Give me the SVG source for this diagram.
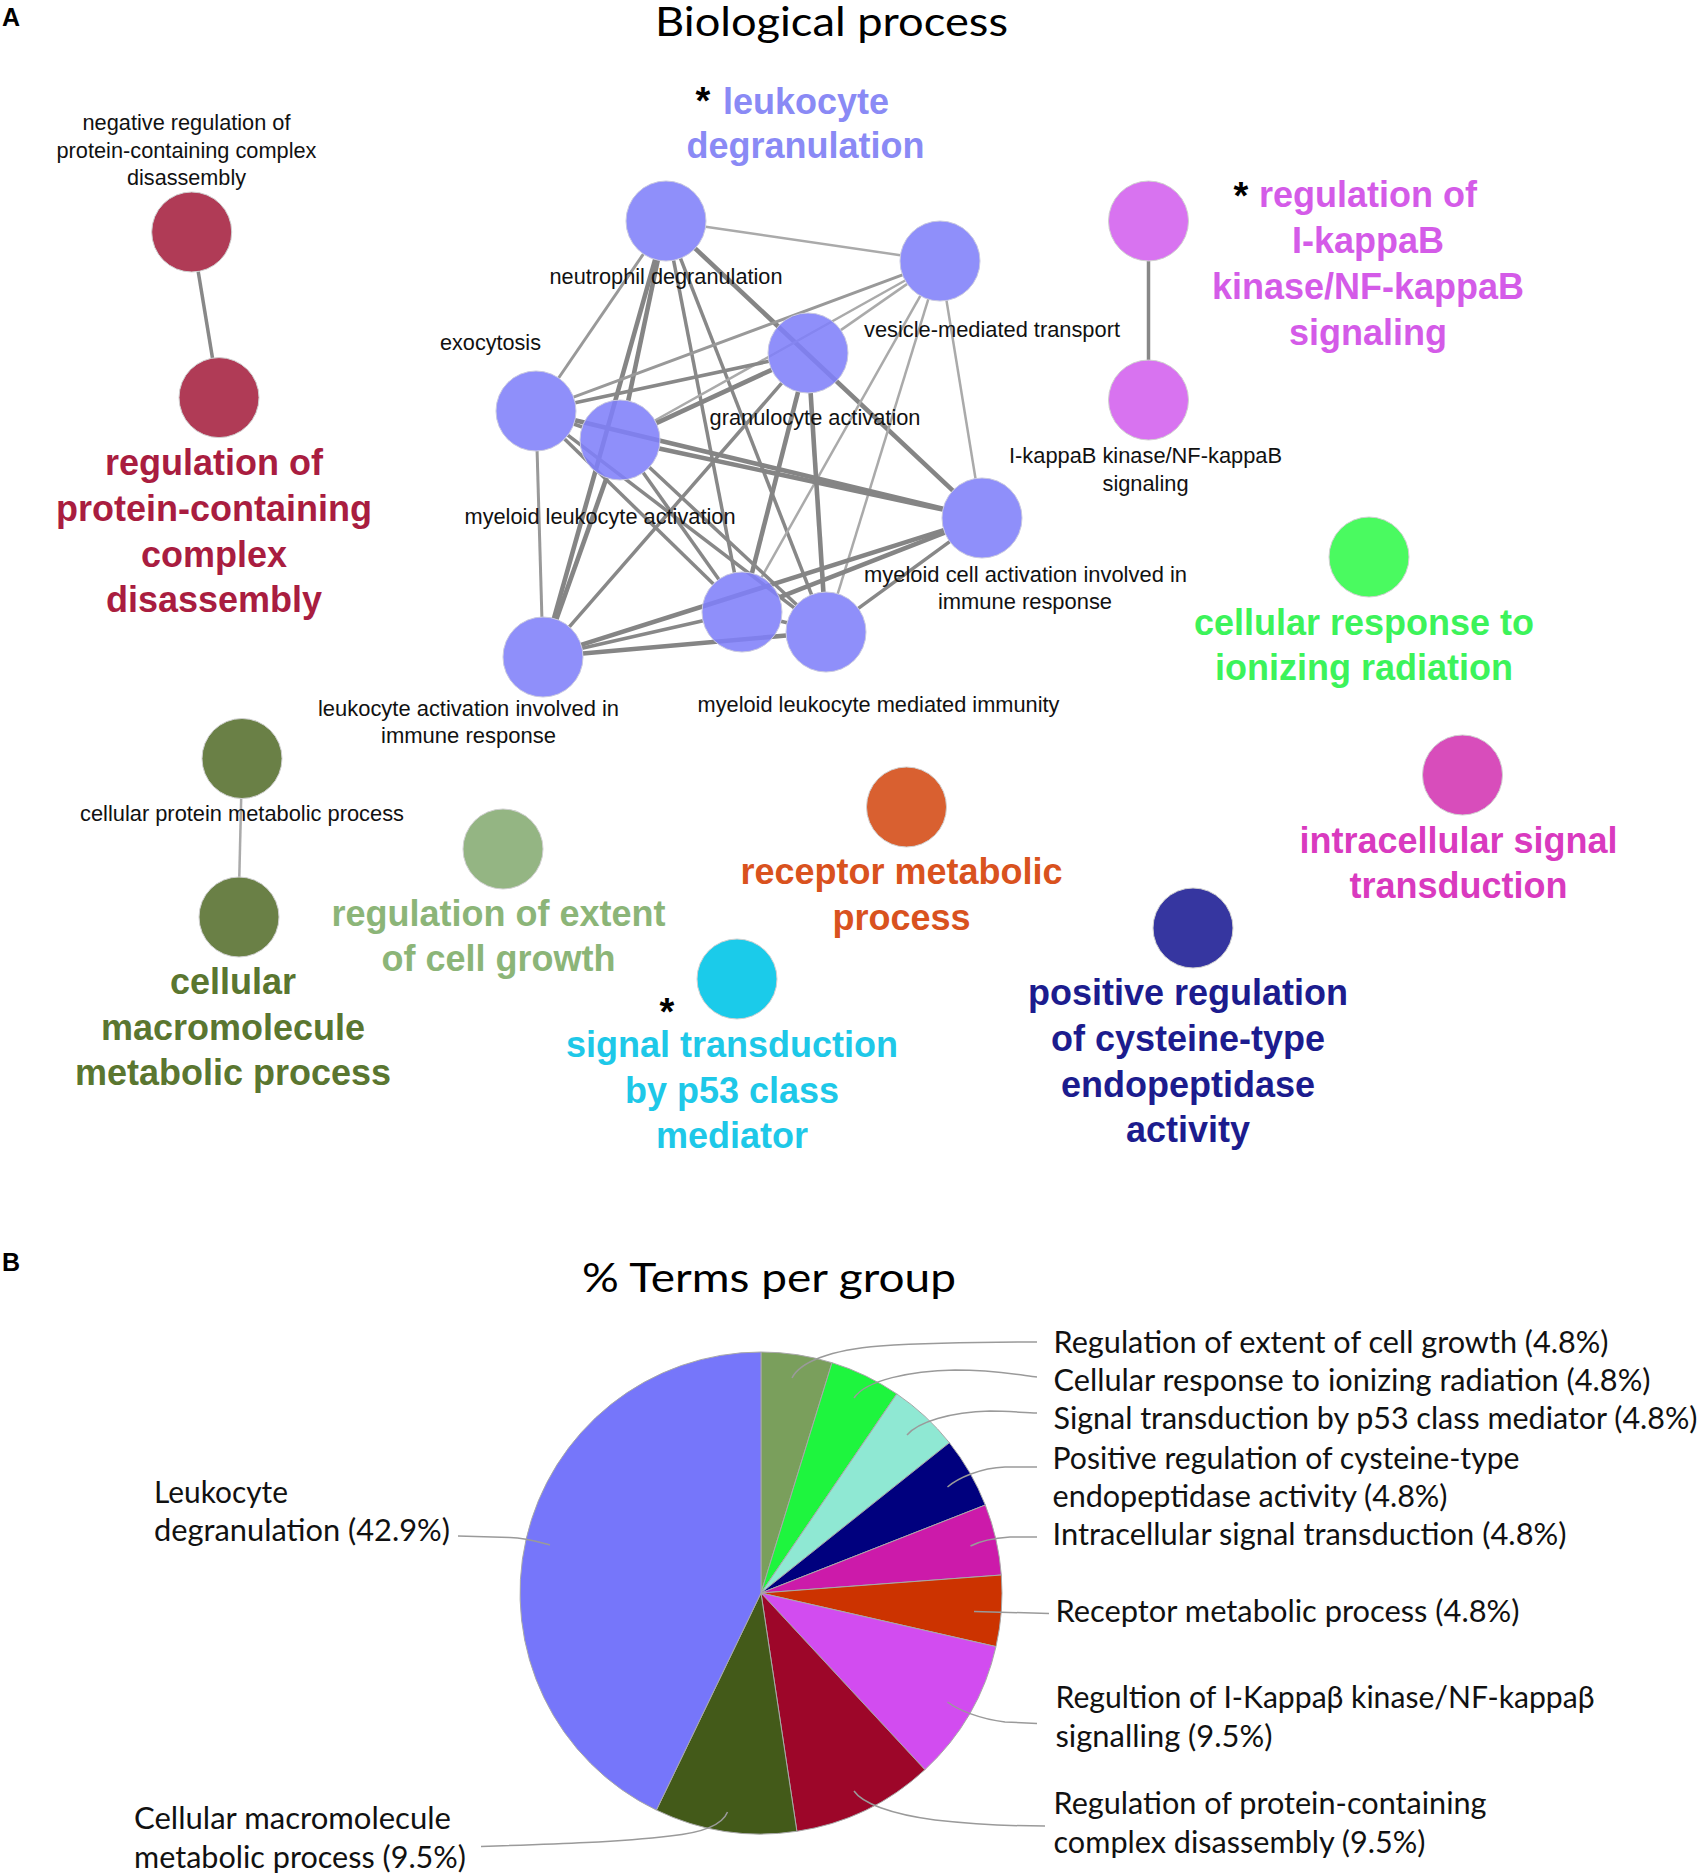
<svg xmlns="http://www.w3.org/2000/svg" width="1699" height="1875" viewBox="0 0 1699 1875">
<style>
.e1{stroke:#aaa;stroke-width:2.5;fill:none}
.e2{stroke:#888;stroke-width:3.5;fill:none}
.e3{stroke:#858585;stroke-width:4.6;fill:none}
.e0{stroke:#999;stroke-width:3;fill:none}
.bn{fill:#8080F9;fill-opacity:0.88;stroke:#c8c8e0;stroke-width:1}
.nd{stroke:#d0d0d0;stroke-width:1}
.sl{font-family:"Liberation Sans",Arial,sans-serif;font-size:21.5px;fill:#111;text-anchor:middle}
.bl{font-family:"Liberation Sans",Arial,sans-serif;font-size:36px;font-weight:bold;text-anchor:middle}
.ast{font-family:"Liberation Sans",Arial,sans-serif;font-size:38px;font-weight:bold;fill:#000;text-anchor:middle}
.ttl{font-family:Lato,"Liberation Sans",sans-serif;font-size:41px;fill:#000;text-anchor:middle}
.lg{font-family:Lato,"Liberation Sans",sans-serif;font-size:30px;fill:#111}
.pl{font-family:"Liberation Sans",Arial,sans-serif;font-size:25px;font-weight:bold;fill:#000}
.ld{stroke:#9a9a9a;stroke-width:1.5;fill:none}
.ps{stroke:#a8a8a8;stroke-width:1}
</style>
<rect width="1699" height="1875" fill="#fff"/>

<text class="pl" x="2" y="26">A</text>
<text class="ttl" x="831.5" y="36" textLength="353" lengthAdjust="spacingAndGlyphs">Biological process</text>

<g id="connectors">
  <line class="e2" x1="198.2" y1="271.5" x2="212.5" y2="358.1"/>
  <line class="e2" x1="1148.5" y1="261" x2="1148.5" y2="360"/>
  <line class="e1" stroke-width="2" x1="241.2" y1="798" x2="239.3" y2="877"/>
  <line class="e1" x1="705.6" y1="226.8" x2="900.4" y2="255.2"/>
  <line class="e0" x1="643.4" y1="254.0" x2="558.6" y2="378.0"/>
  <line class="e3" x1="657.8" y1="260.1" x2="628.2" y2="400.9"/>
  <line class="e3" x1="655.1" y1="259.5" x2="553.9" y2="618.5"/>
  <line class="e2" x1="673.6" y1="260.3" x2="734.4" y2="572.7"/>
  <line class="e2" x1="680.5" y1="258.3" x2="811.5" y2="594.7"/>
  <line class="e3" stroke-width="5" x1="695.1" y1="248.4" x2="952.9" y2="490.6"/>
  <line class="e0" stroke="#9c9c9c" x1="902.5" y1="274.9" x2="573.5" y2="397.1"/>
  <line class="e1" x1="905.1" y1="280.5" x2="654.9" y2="420.5"/>
  <line class="e1" x1="907.2" y1="283.9" x2="840.8" y2="330.1"/>
  <line class="e1" stroke-width="2" x1="920.3" y1="295.8" x2="761.7" y2="577.2"/>
  <line class="e1" stroke-width="2" x1="928.3" y1="299.2" x2="837.7" y2="593.8"/>
  <line class="e1" x1="946.5" y1="300.5" x2="975.5" y2="478.5"/>
  <line class="e2" x1="768.9" y1="361.3" x2="575.1" y2="402.7"/>
  <line class="e3" x1="771.7" y1="369.8" x2="656.3" y2="423.2"/>
  <line class="e2" x1="781.7" y1="383.2" x2="569.3" y2="626.8"/>
  <line class="e3" stroke-width="4" x1="798.1" y1="391.8" x2="751.9" y2="573.2"/>
  <line class="e3" stroke-width="4" x1="810.6" y1="392.9" x2="823.4" y2="592.1"/>
  <line class="e2" x1="573.8" y1="424.0" x2="582.2" y2="427.0"/>
  <line class="e3" x1="574.9" y1="420.3" x2="943.1" y2="508.7"/>
  <line class="e0" x1="537.1" y1="451.0" x2="541.9" y2="617.0"/>
  <line class="e2" x1="564.6" y1="438.9" x2="713.4" y2="584.1"/>
  <line class="e2" x1="567.8" y1="435.2" x2="794.2" y2="607.8"/>
  <line class="e3" x1="659.1" y1="448.4" x2="942.9" y2="509.6"/>
  <line class="e3" stroke-width="4" x1="606.6" y1="477.7" x2="556.4" y2="619.3"/>
  <line class="e2" x1="643.1" y1="472.6" x2="718.9" y2="579.4"/>
  <line class="e2" x1="649.3" y1="467.3" x2="796.7" y2="604.7"/>
  <line class="e3" x1="943.9" y1="530.1" x2="581.1" y2="644.9"/>
  <line class="e3" stroke-width="4" x1="944.8" y1="532.6" x2="779.2" y2="597.4"/>
  <line class="e2" x1="949.7" y1="541.6" x2="858.3" y2="608.4"/>
  <line class="e2" x1="582.0" y1="648.2" x2="703.0" y2="620.8"/>
  <line class="e3" stroke-width="4" x1="582.8" y1="653.5" x2="786.2" y2="635.5"/>
  <line class="e2" x1="780.9" y1="621.3" x2="787.1" y2="622.7"/>
</g>

<g id="node-neutrophil-degranulation">
  <circle class="bn" cx="666" cy="221" r="40"/>
  <text class="sl" x="666" y="284" textLength="233" lengthAdjust="spacingAndGlyphs">neutrophil degranulation</text>
</g>
<g id="node-vesicle-mediated-transport">
  <circle class="bn" cx="940" cy="261" r="40"/>
  <text class="sl" x="992" y="337" textLength="256" lengthAdjust="spacingAndGlyphs">vesicle-mediated transport</text>
</g>
<g id="node-granulocyte-activation">
  <circle class="bn" cx="808" cy="353" r="40"/>
  <text class="sl" x="815" y="425" textLength="211" lengthAdjust="spacingAndGlyphs">granulocyte activation</text>
</g>
<g id="node-exocytosis">
  <circle class="bn" cx="536" cy="411" r="40"/>
  <text class="sl" x="490.5" y="350" textLength="101" lengthAdjust="spacingAndGlyphs">exocytosis</text>
</g>
<g id="node-myeloid-leukocyte-activation">
  <circle class="bn" cx="620" cy="440" r="40"/>
  <text class="sl" x="600" y="524" textLength="271" lengthAdjust="spacingAndGlyphs">myeloid leukocyte activation</text>
</g>
<g id="node-myeloid-cell-activation">
  <circle class="bn" cx="982" cy="518" r="40"/>
  <text class="sl" x="1025.5" y="581.5" textLength="323" lengthAdjust="spacingAndGlyphs">myeloid cell activation involved in</text>
  <text class="sl" x="1025" y="608.5" textLength="174" lengthAdjust="spacingAndGlyphs">immune response</text>
</g>
<g id="node-leukocyte-degranulation">
  <circle class="bn" cx="742" cy="612" r="40"/>
</g>
<g id="node-myeloid-leukocyte-mediated-immunity">
  <circle class="bn" cx="826" cy="632" r="40"/>
  <text class="sl" x="878.5" y="711.5" textLength="362" lengthAdjust="spacingAndGlyphs">myeloid leukocyte mediated immunity</text>
</g>
<g id="node-leukocyte-activation">
  <circle class="bn" cx="543" cy="657" r="40"/>
  <text class="sl" x="468.5" y="716" textLength="301" lengthAdjust="spacingAndGlyphs">leukocyte activation involved in</text>
  <text class="sl" x="468.5" y="743" textLength="175" lengthAdjust="spacingAndGlyphs">immune response</text>
</g>
<g id="label-leukocyte-degranulation">
  <text class="ast" x="703" y="114">*</text>
  <text class="bl" x="806" y="114" fill="#8A8AF5">leukocyte</text>
  <text class="bl" x="805.5" y="158" fill="#8A8AF5">degranulation</text>
</g>

<g id="node-negative-regulation-protein-complex">
  <circle class="nd" cx="191.7" cy="232" r="40" fill="#B03B56"/>
  <text class="sl" x="186.5" y="130" textLength="208" lengthAdjust="spacingAndGlyphs">negative regulation of</text>
  <text class="sl" x="186.5" y="158" textLength="260" lengthAdjust="spacingAndGlyphs">protein-containing complex</text>
  <text class="sl" x="186.5" y="185" textLength="119" lengthAdjust="spacingAndGlyphs">disassembly</text>
</g>
<g id="node-regulation-protein-complex">
  <circle class="nd" cx="219" cy="397.6" r="40" fill="#B03B56"/>
  <text class="bl" fill="#A91D40" x="214" y="475">regulation of</text>
  <text class="bl" fill="#A91D40" x="214" y="521">protein-containing</text>
  <text class="bl" fill="#A91D40" x="214" y="567">complex</text>
  <text class="bl" fill="#A91D40" x="214" y="612">disassembly</text>
</g>

<g id="node-regulation-ikappab">
  <circle class="nd" cx="1148.5" cy="221" r="40" fill="#D873F0"/>
  <text class="ast" x="1241" y="209">*</text>
  <text class="bl" fill="#D45BE8" x="1368" y="207">regulation of</text>
  <text class="bl" fill="#D45BE8" x="1368" y="253">I-kappaB</text>
  <text class="bl" fill="#D45BE8" x="1368" y="299">kinase/NF-kappaB</text>
  <text class="bl" fill="#D45BE8" x="1368" y="345">signaling</text>
</g>
<g id="node-ikappab-signaling">
  <circle class="nd" cx="1148.5" cy="400" r="40" fill="#D873F0"/>
  <text class="sl" x="1145.5" y="463" textLength="273" lengthAdjust="spacingAndGlyphs">I-kappaB kinase/NF-kappaB</text>
  <text class="sl" x="1145.5" y="490.5" textLength="86" lengthAdjust="spacingAndGlyphs">signaling</text>
</g>

<g id="node-cellular-response-ionizing-radiation">
  <circle class="nd" cx="1369" cy="557" r="40" fill="#4AFA60"/>
  <text class="bl" fill="#3CF35A" x="1364" y="635">cellular response to</text>
  <text class="bl" fill="#3CF35A" x="1364" y="680">ionizing radiation</text>
</g>

<g id="node-cellular-protein-metabolic-process">
  <circle class="nd" cx="242" cy="758.5" r="40" fill="#6A8046"/>
  <text class="sl" x="242" y="821" textLength="324" lengthAdjust="spacingAndGlyphs">cellular protein metabolic process</text>
</g>
<g id="node-cellular-macromolecule-metabolic-process">
  <circle class="nd" cx="239" cy="917" r="40" fill="#6A8046"/>
  <text class="bl" fill="#5A7630" x="233" y="994">cellular</text>
  <text class="bl" fill="#5A7630" x="233" y="1040">macromolecule</text>
  <text class="bl" fill="#5A7630" x="233" y="1085">metabolic process</text>
</g>

<g id="node-regulation-extent-cell-growth">
  <circle class="nd" cx="503" cy="849" r="40" fill="#94B583"/>
  <text class="bl" fill="#8CB578" x="498.5" y="926">regulation of extent</text>
  <text class="bl" fill="#8CB578" x="498.5" y="971">of cell growth</text>
</g>

<g id="node-receptor-metabolic-process">
  <circle class="nd" cx="906.5" cy="807" r="40" fill="#D96030"/>
  <text class="bl" fill="#D9521E" x="901.5" y="884">receptor metabolic</text>
  <text class="bl" fill="#D9521E" x="901.5" y="930">process</text>
</g>

<g id="node-signal-transduction-p53">
  <circle class="nd" cx="737" cy="979" r="40" fill="#1BCBEA"/>
  <text class="ast" x="667" y="1025">*</text>
  <text class="bl" fill="#1EC8E8" x="732" y="1057">signal transduction</text>
  <text class="bl" fill="#1EC8E8" x="732" y="1103">by p53 class</text>
  <text class="bl" fill="#1EC8E8" x="732" y="1148">mediator</text>
</g>

<g id="node-positive-regulation-cysteine">
  <circle class="nd" cx="1193" cy="928" r="40" fill="#3636A0"/>
  <text class="bl" fill="#1C1C8E" x="1188" y="1005">positive regulation</text>
  <text class="bl" fill="#1C1C8E" x="1188" y="1051">of cysteine-type</text>
  <text class="bl" fill="#1C1C8E" x="1188" y="1097">endopeptidase</text>
  <text class="bl" fill="#1C1C8E" x="1188" y="1142">activity</text>
</g>

<g id="node-intracellular-signal-transduction">
  <circle class="nd" cx="1462.5" cy="775" r="40" fill="#D84DBB"/>
  <text class="bl" fill="#D93ABF" x="1458.5" y="853">intracellular signal</text>
  <text class="bl" fill="#D93ABF" x="1458.5" y="898">transduction</text>
</g>

<text class="pl" x="2" y="1271">B</text>
<text class="ttl" x="769" y="1292" textLength="374" lengthAdjust="spacingAndGlyphs">% Terms per group</text>

<g id="pie">
  <path class="ps" fill="#7A9F5C" d="M761,1593 L761,1352 A241,241 0 0,1 832.0,1362.7 Z"/>
  <path class="ps" fill="#1EF53E" d="M761,1593 L832.0,1362.7 A241,241 0 0,1 896.8,1393.9 Z"/>
  <path class="ps" fill="#8FE8D3" d="M761,1593 L896.8,1393.9 A241,241 0 0,1 949.4,1442.7 Z"/>
  <path class="ps" fill="#00007E" d="M761,1593 L949.4,1442.7 A241,241 0 0,1 985.3,1505.0 Z"/>
  <path class="ps" fill="#CC1AAA" d="M761,1593 L985.3,1505.0 A241,241 0 0,1 1001.3,1575.0 Z"/>
  <path class="ps" fill="#CC3300" d="M761,1593 L1001.3,1575.0 A241,241 0 0,1 996.0,1646.6 Z"/>
  <path class="ps" fill="#D24CF0" d="M761,1593 L996.0,1646.6 A241,241 0 0,1 924.9,1769.7 Z"/>
  <path class="ps" fill="#9D0629" d="M761,1593 L924.9,1769.7 A241,241 0 0,1 796.9,1831.3 Z"/>
  <path class="ps" fill="#435A19" d="M761,1593 L796.9,1831.3 A241,241 0 0,1 656.4,1810.1 Z"/>
  <path class="ps" fill="#7676FA" d="M761,1593 L656.4,1810.1 A241,241 0 0,1 761,1352 Z"/>
</g>

<g id="leaders">
  <path class="ld" d="M792,1378 C800,1362 830,1350 880,1346 C940,1342 1000,1342 1037,1342"/>
  <path class="ld" d="M854,1398 C866,1380 910,1371 955,1370 C995,1370 1020,1375 1037,1377"/>
  <path class="ld" d="M907,1435 C918,1422 950,1412 990,1411 C1010,1411 1025,1413 1037,1413"/>
  <path class="ld" d="M947.5,1487 C958,1478 980,1468 1005,1467 L1037,1467"/>
  <path class="ld" d="M970.5,1546 C980,1541 995,1538 1010,1537 L1037,1537"/>
  <path class="ld" d="M974,1611.5 L1049,1613.5"/>
  <path class="ld" d="M947.5,1702 C958,1710 980,1719 1005,1722 L1037,1723.5"/>
  <path class="ld" d="M854,1791 C862,1803 890,1814 935,1820 C980,1825 1015,1826 1045,1826"/>
  <path class="ld" d="M727.5,1812 C722,1826 700,1833 670,1836 C620,1842 560,1844 481,1846.5"/>
  <path class="ld" d="M550,1545 C535,1541 525,1538 510,1537.5 L458,1536"/>
</g>

<g id="legend">
  <text class="lg" x="1053.5" y="1353" textLength="555" lengthAdjust="spacingAndGlyphs">Regulation of extent of cell growth (4.8%)</text>
  <text class="lg" x="1053.5" y="1391" textLength="597" lengthAdjust="spacingAndGlyphs">Cellular response to ionizing radiation (4.8%)</text>
  <text class="lg" x="1053.5" y="1429" textLength="644" lengthAdjust="spacingAndGlyphs">Signal transduction by p53 class mediator (4.8%)</text>
  <text class="lg" x="1052.5" y="1469" textLength="467" lengthAdjust="spacingAndGlyphs">Positive regulation of cysteine-type</text>
  <text class="lg" x="1052.5" y="1507" textLength="395" lengthAdjust="spacingAndGlyphs">endopeptidase activity (4.8%)</text>
  <text class="lg" x="1052.5" y="1545" textLength="514" lengthAdjust="spacingAndGlyphs">Intracellular signal transduction (4.8%)</text>
  <text class="lg" x="1055.5" y="1622" textLength="464" lengthAdjust="spacingAndGlyphs">Receptor metabolic process (4.8%)</text>
  <text class="lg" x="1055.5" y="1708" textLength="539" lengthAdjust="spacingAndGlyphs">Regultion of I-Kappaβ kinase/NF-kappaβ</text>
  <text class="lg" x="1055.5" y="1747" textLength="217" lengthAdjust="spacingAndGlyphs">signalling (9.5%)</text>
  <text class="lg" x="1053.5" y="1814" textLength="433" lengthAdjust="spacingAndGlyphs">Regulation of protein-containing</text>
  <text class="lg" x="1053.5" y="1853" textLength="372" lengthAdjust="spacingAndGlyphs">complex disassembly (9.5%)</text>
  <text class="lg" x="154" y="1503" textLength="134" lengthAdjust="spacingAndGlyphs">Leukocyte</text>
  <text class="lg" x="154" y="1541" textLength="296" lengthAdjust="spacingAndGlyphs">degranulation (42.9%)</text>
  <text class="lg" x="134" y="1829" textLength="317" lengthAdjust="spacingAndGlyphs">Cellular macromolecule</text>
  <text class="lg" x="134" y="1868" textLength="332" lengthAdjust="spacingAndGlyphs">metabolic process (9.5%)</text>
</g>
</svg>
